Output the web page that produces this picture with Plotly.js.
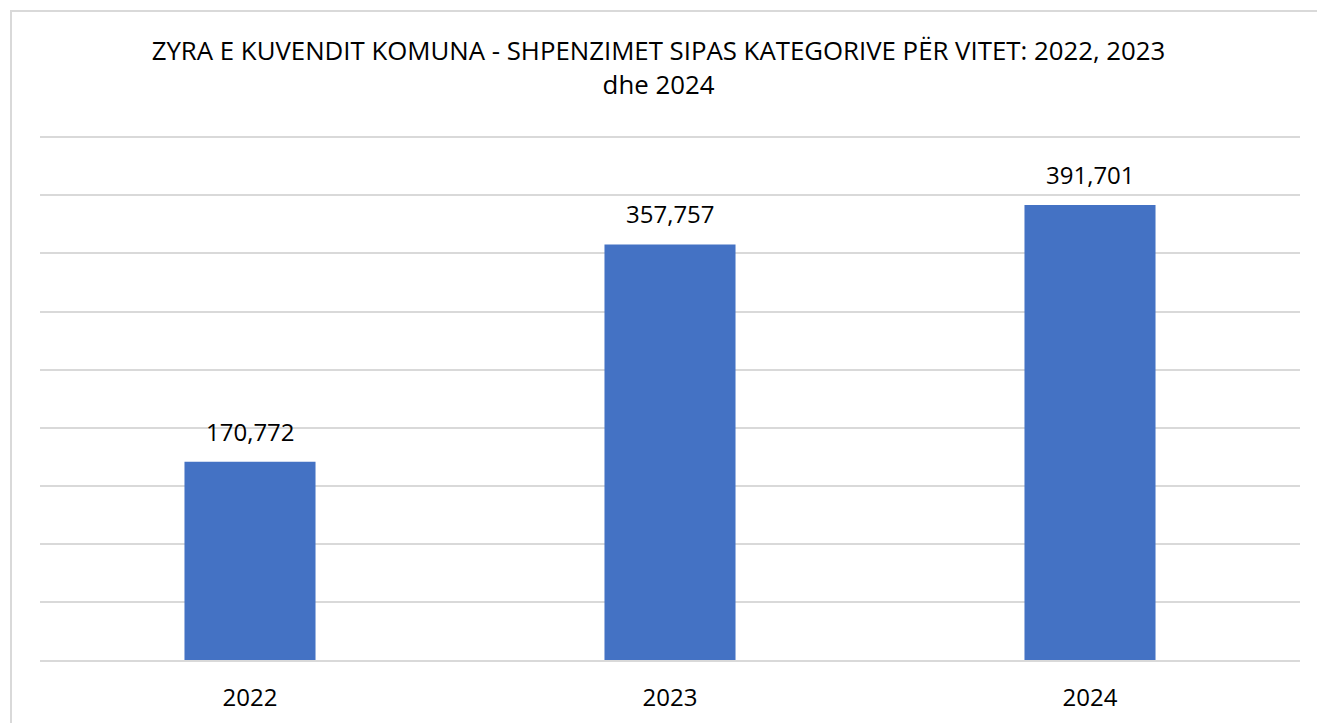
<!DOCTYPE html>
<html>
<head>
<meta charset="utf-8">
<script src="https://cdn.plot.ly/plotly-3.0.1.min.js"></script>
<style>
  body { margin: 0; overflow: hidden; background: #fff; }
  #wrap { position: relative; width: 1317px; height: 723px; }
  #frame { position: absolute; left: 10px; top: 10px; width: 2000px; height: 2000px;
           border: 2px solid #d9d9d9; pointer-events: none; }
</style>
</head>
<body>
<div id="wrap">
  <div id="plotDiv"></div>
  <div id="frame"></div>
</div>
<script>
var years = ['2022', '2023', '2024'];
var spending = [170772, 357757, 391701];
var gridVals = [50000, 100000, 150000, 200000, 250000, 300000, 350000, 400000, 450000];

var chartTitle = 'ZYRA E KUVENDIT KOMUNA - SHPENZIMET SIPAS KATEGORIVE PËR VITET: 2022, 2023<br>dhe 2024';
var font = '"Open Sans", "Noto Sans", sans-serif';

var bars = {
  type: 'bar',
  x: years,
  y: spending,
  marker: {color: '#4472c4'},
  hoverinfo: 'x+y'
};

// value labels above each bar (x given as category index)
var labels = years.map(function(yr, i) {
  return {
    x: i,
    y: spending[i],
    text: spending[i].toLocaleString('en-US'),
    showarrow: false,
    yanchor: 'bottom',
    yshift: 12,
    font: {size: 24, color: '#000'}
  };
});

var layout = {
  width: 1317,
  height: 723,
  margin: {l: 40, r: 17, t: 135, b: 63},
  paper_bgcolor: '#fff',
  plot_bgcolor: '#fff',
  font: {family: font, color: '#000'},
  showlegend: false,
  bargap: 0.688,
  title: {
    text: chartTitle,
    font: {size: 25.8, color: '#000'},
    x: 0.5,
    xanchor: 'center',
    y: 1 - 60 / 723,
    yanchor: 'top',
    yref: 'container'
  },
  xaxis: {
    type: 'category',
    range: [-0.5, 2.5],
    showgrid: false,
    showline: true,
    linecolor: '#d9d9d9',
    linewidth: 2,
    ticks: '',
    tickfont: {size: 24, color: '#000'},
    ticklabelstandoff: 15
  },
  yaxis: {
    range: [0, 452000],
    tickvals: gridVals,
    showgrid: true,
    gridcolor: '#d9d9d9',
    gridwidth: 2,
    zeroline: false,
    showticklabels: false,
    fixedrange: true
  },
  annotations: labels
};

Plotly.newPlot('plotDiv', [bars], layout, {displayModeBar: false, staticPlot: true});
</script>
</body>
</html>
